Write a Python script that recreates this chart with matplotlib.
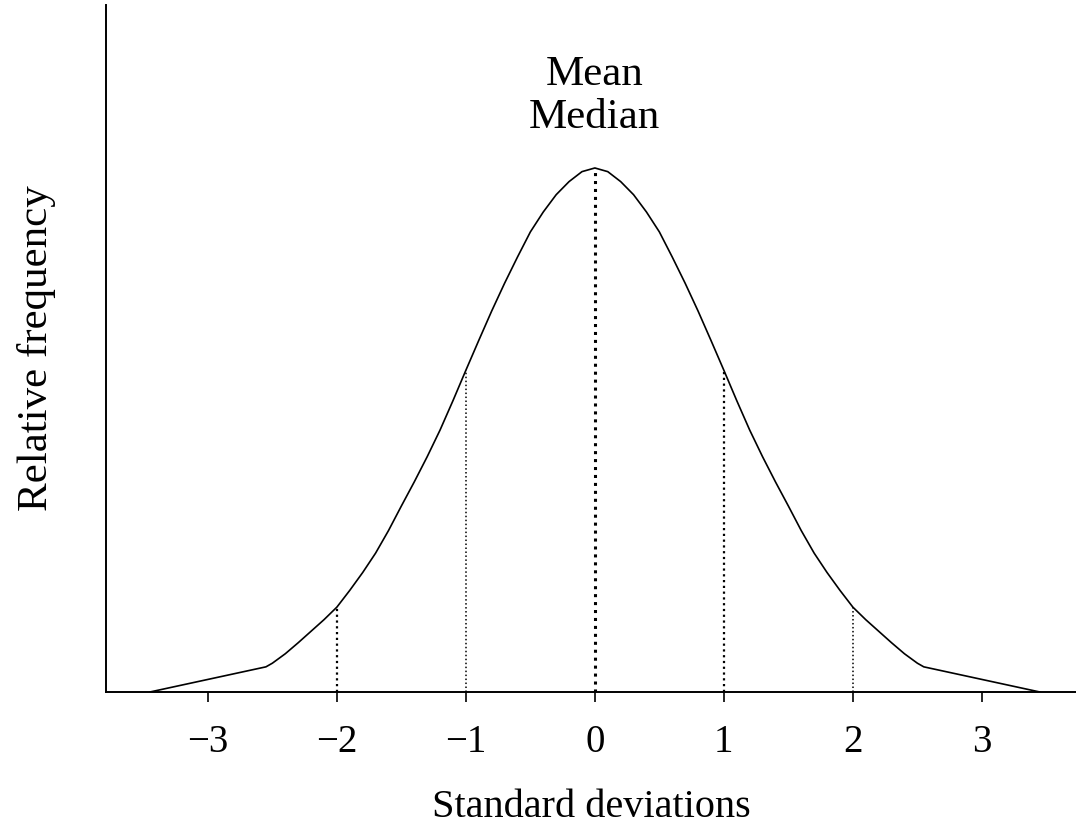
import numpy as np
import matplotlib
matplotlib.use("Agg")
import matplotlib.pyplot as plt

plt.rcParams['font.family'] = ['Liberation Serif', 'DejaVu Serif']

# curve (one side, mirrored), height relative to the peak
half_x = [0.0, 0.1, 0.2, 0.3, 0.4, 0.5, 0.6, 0.7, 0.8, 0.9, 1.0, 1.1, 1.2,
          1.3, 1.4, 1.5, 1.6, 1.7, 1.8, 1.9, 2.0, 2.1, 2.2, 2.3, 2.4, 2.5,
          2.55, 3.45]
half_h = [1.0, 0.993, 0.974, 0.949, 0.916, 0.878, 0.83, 0.78, 0.727, 0.671,
          0.614, 0.556, 0.5, 0.449, 0.401, 0.355, 0.308, 0.265, 0.228, 0.194,
          0.162, 0.138, 0.116, 0.094, 0.073, 0.055, 0.048, 0.0]

curve_x = [-v for v in half_x[::-1]] + half_x[1:]
curve_h = half_h[::-1] + half_h[1:]

# dotted drop lines at the sd marks
sd_marks = [-2, -1, 0, 1, 2]
sd_heights = [0.162, 0.614, 1.0, 0.614, 0.162]
sd_widths = [1.6, 1.1, 2.2, 1.6, 1.1]

ticks = [-3, -2, -1, 0, 1, 2, 3]
tick_labels = ["\u22123", "\u22122", "\u22121", "0", "1", "2", "3"]

fig = plt.figure(figsize=(10.76, 8.32), dpi=100)
ax = fig.add_axes([106/1076, 140/832, 1 - 106/1076, 687/832])

ax.plot(curve_x, curve_h, color="black", lw=1.2, solid_joinstyle="round")
for m, h, w in zip(sd_marks, sd_heights, sd_widths):
    ax.plot([m, m], [0, h], color="black", lw=w, linestyle=(0, (1, 1.6)))

ax.text(0, 1.136, "Mean\nMedian", ha="center", va="center", fontsize=31,
        linespacing=1.15)

ax.set_xlim(-3.79, 3.73)
ax.set_ylim(0, 1.311)
ax.set_xticks(ticks)
ax.set_xticklabels(tick_labels, fontsize=28)
ax.set_yticks([])
ax.tick_params(axis="x", length=7, width=1.2, pad=16)
ax.spines["top"].set_visible(False)
ax.spines["right"].set_visible(False)
ax.spines["left"].set_linewidth(1.4)
ax.spines["bottom"].set_linewidth(1.4)
ax.set_xlabel("Standard deviations", fontsize=29, labelpad=20)
ax.set_ylabel("Relative frequency", fontsize=31, labelpad=36)

fig.savefig("out.png", dpi=100)
